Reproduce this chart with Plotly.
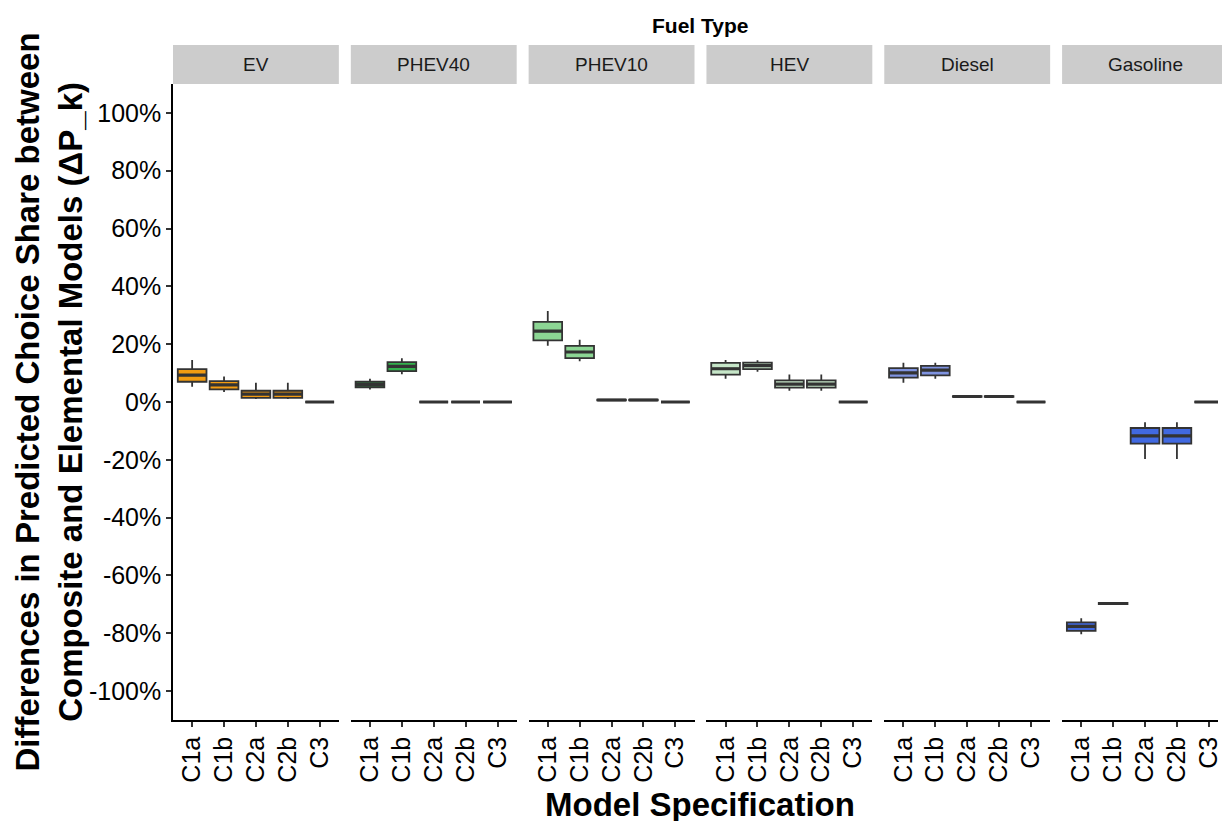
import plotly.graph_objects as go

# ---------------- data (percent) ----------------
fuel_types = ["EV", "PHEV40", "PHEV10", "HEV", "Diesel", "Gasoline"]
model_specs = ["C1a", "C1b", "C2a", "C2b", "C3"]

fill_colors = ["#F29B11", "#33B04D", "#8CD694", "#C6E6C8", "#7F93E0", "#4169E1"]

lower_whisker = {
    "EV":       [5.3, 3.5, 1.0, 1.0, 0.0],
    "PHEV40":   [4.3, 9.6, 0.0, 0.0, 0.0],
    "PHEV10":   [19.5, 14.1, 0.5, 0.5, 0.0],
    "HEV":      [8.0, 10.5, 3.9, 3.9, 0.0],
    "Diesel":   [6.7, 8.0, 1.6, 1.6, 0.0],
    "Gasoline": [-80.3, -70.2, -19.7, -19.7, 0.0],
}
q1_vals = {
    "EV":       [7.0, 4.4, 1.4, 1.4, 0.0],
    "PHEV40":   [5.1, 10.7, 0.0, 0.0, 0.0],
    "PHEV10":   [21.3, 15.2, 0.6, 0.6, 0.0],
    "HEV":      [9.5, 11.4, 5.0, 5.0, 0.0],
    "Diesel":   [8.4, 9.2, 1.8, 1.8, 0.0],
    "Gasoline": [-79.2, -69.9, -14.4, -14.4, 0.0],
}
median_vals = {
    "EV":       [9.3, 5.9, 2.7, 2.7, 0.0],
    "PHEV40":   [6.0, 12.3, 0.0, 0.0, 0.0],
    "PHEV10":   [24.5, 17.3, 0.7, 0.7, 0.0],
    "HEV":      [11.5, 12.6, 6.2, 6.2, 0.0],
    "Diesel":   [10.1, 11.0, 1.9, 1.9, 0.0],
    "Gasoline": [-77.6, -69.7, -11.7, -11.7, 0.0],
}
q3_vals = {
    "EV":       [11.4, 7.2, 3.9, 3.9, 0.0],
    "PHEV40":   [7.0, 13.8, 0.0, 0.0, 0.0],
    "PHEV10":   [27.7, 19.4, 0.8, 0.8, 0.0],
    "HEV":      [13.5, 13.6, 7.5, 7.5, 0.0],
    "Diesel":   [11.7, 12.5, 2.0, 2.0, 0.0],
    "Gasoline": [-76.2, -69.5, -9.0, -9.0, 0.0],
}
upper_whisker = {
    "EV":       [14.5, 8.8, 6.7, 6.7, 0.0],
    "PHEV40":   [8.0, 15.1, 0.0, 0.0, 0.0],
    "PHEV10":   [31.5, 21.5, 0.9, 0.9, 0.0],
    "HEV":      [14.5, 14.4, 9.5, 9.5, 0.0],
    "Diesel":   [13.6, 13.6, 2.2, 2.2, 0.0],
    "Gasoline": [-74.8, -69.2, -7.0, -7.0, 0.0],
}

y_tick_vals = [100, 80, 60, 40, 20, 0, -20, -40, -60, -80, -100]
y_tick_text = ["100%", "80%", "60%", "40%", "20%", "0%", "-20%", "-40%", "-60%", "-80%", "-100%"]

y_title = "<b>Differences in Predicted Choice Share between</b><br><b>Composite and Elemental Models (ΔP_k)</b>"
x_title = "<b>Model Specification</b>"
facet_title = "<b>Fuel Type</b>"

# ---------------- layout geometry ----------------
FONT = "Liberation Sans, Arial, sans-serif"
W, H = 1222, 821
ML, MR, MT, MB = 173, 0, 84, 101
PW = W - ML - MR          # plot area width
PH = H - MT - MB          # plot area height
PANEL = 166.5
STEP = 178.5
UNIT = PANEL / 5.2        # px per category unit

fig = go.Figure()
layout = dict(
    width=W, height=H,
    margin=dict(l=ML, r=MR, t=MT, b=MB, pad=0),
    paper_bgcolor="white", plot_bgcolor="white",
    boxmode="overlay", boxgap=0.1, boxgroupgap=0,
    showlegend=False,
    font=dict(family=FONT, color="black"),
)

shapes = []
annotations = []

for i, ft in enumerate(fuel_types):
    xa = "x" if i == 0 else f"x{i+1}"
    xkey = "xaxis" if i == 0 else f"xaxis{i+1}"
    left_px = STEP * i
    right_px = left_px + PANEL
    d0 = left_px / PW
    d1 = min(right_px / PW, 1.0)
    vis_units = (min(right_px, PW) - left_px) / UNIT
    layout[xkey] = dict(
        domain=[d0, d1], anchor="y",
        type="category", categoryorder="array", categoryarray=model_specs,
        range=[-0.6, -0.6 + vis_units],
        showline=True, linecolor="black", linewidth=1.5,
        showgrid=False, zeroline=False,
        ticks="outside", ticklen=5, tickwidth=1.5, tickcolor="#333333",
        tickangle=-90, tickfont=dict(size=25, color="black", family=FONT),
        fixedrange=True,
    )
    fig.add_trace(go.Box(
        x=model_specs,
        q1=q1_vals[ft], median=median_vals[ft], q3=q3_vals[ft],
        lowerfence=lower_whisker[ft], upperfence=upper_whisker[ft],
        fillcolor=fill_colors[i],
        line=dict(color="#333333", width=1.8),
        whiskerwidth=0, boxpoints=False,
        xaxis=xa, yaxis="y", name=ft,
    ))
    fig.add_trace(go.Box(
        x=model_specs,
        q1=median_vals[ft], median=median_vals[ft], q3=median_vals[ft],
        lowerfence=median_vals[ft], upperfence=median_vals[ft],
        fillcolor="rgba(0,0,0,0)",
        line=dict(color="#333333", width=3.2),
        whiskerwidth=0, boxpoints=False,
        xaxis=xa, yaxis="y", name=ft + " median",
    ))
    shapes.append(dict(
        type="rect", xref="paper", yref="paper",
        x0=d0, x1=right_px / PW, y0=1.0, y1=(MT - 45) / PH + 1.0,
        fillcolor="#CCCCCC", line=dict(width=0), layer="below",
    ))
    annotations.append(dict(
        text=ft, xref="paper", yref="paper",
        x=(left_px + PANEL / 2) / PW, y=1.0 + (MT - 64.5) / PH,
        xanchor="center", yanchor="middle", showarrow=False,
        font=dict(size=19, color="#1A1A1A", family=FONT),
    ))

layout["yaxis"] = dict(
    domain=[0, 1], anchor="x",
    range=[-110, 110],
    tickmode="array", tickvals=y_tick_vals, ticktext=y_tick_text,
    showline=True, linecolor="black", linewidth=1.5,
    showgrid=False, zeroline=False,
    ticks="outside", ticklen=5, tickwidth=1.5, tickcolor="#333333",
    tickfont=dict(size=25, color="black", family=FONT),
    fixedrange=True,
)

center_px = (STEP * 5 + PANEL) / 2
annotations.append(dict(
    text=facet_title, xref="paper", yref="paper",
    x=center_px / PW, y=1.0 + (MT - 26) / PH,
    xanchor="center", yanchor="middle", showarrow=False,
    font=dict(size=21, color="black", family=FONT),
))
annotations.append(dict(
    text=x_title, xref="paper", yref="paper",
    x=center_px / PW, y=-(804 - (MT + PH)) / PH,
    xanchor="center", yanchor="middle", showarrow=False,
    font=dict(size=33, color="black", family=FONT),
))
annotations.append(dict(
    text=y_title, xref="paper", yref="paper",
    x=(49 - ML) / PW, y=0.5,
    xanchor="center", yanchor="middle", showarrow=False, textangle=-90,
    font=dict(size=33, color="black", family=FONT),
))

layout["shapes"] = shapes
layout["annotations"] = annotations
fig.update_layout(**layout)

fig.write_html(
    "out.html",
    config={"displayModeBar": False},
    post_script="document.body.style.margin='0';document.body.style.padding='0';document.body.style.overflow='hidden';",
)
